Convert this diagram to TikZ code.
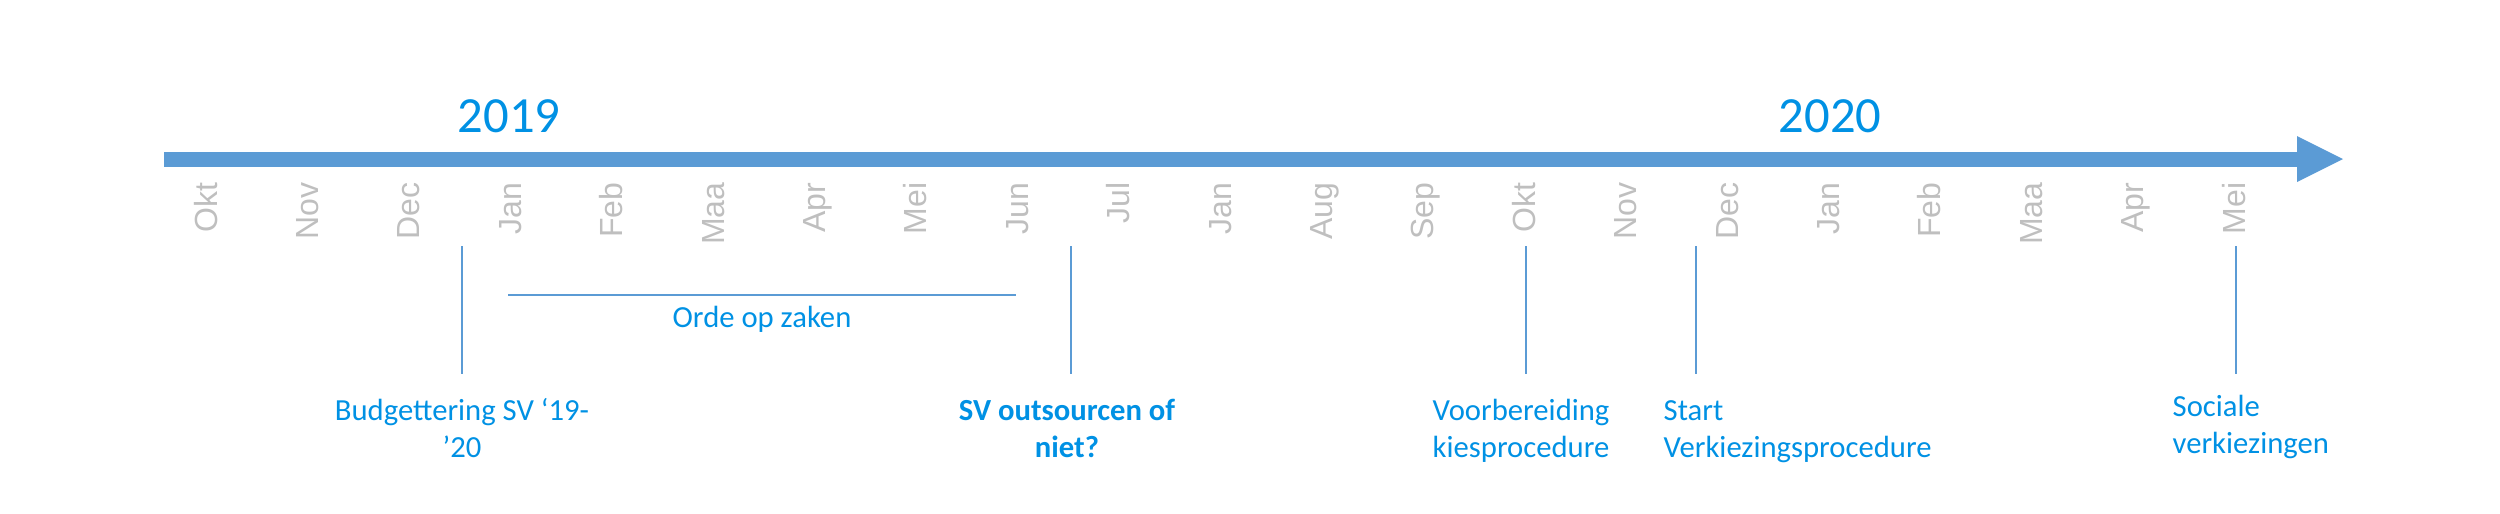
\documentclass[tikz,border=0pt]{standalone}
\usepackage{fontspec}
\setmainfont{Carlito}
\newfontfamily\monthfont{Liberation Sans}
\definecolor{axisblue}{HTML}{5B9BD5}
\definecolor{labelblue}{HTML}{0091E4}
\definecolor{monthgray}{HTML}{BFBFBF}
\tikzset{
  month/.style={rotate=90, anchor=east, inner sep=0pt, text=monthgray,
    font=\monthfont\fontsize{9.6pt}{11pt}\selectfont, text height=0.72em, text depth=0pt},
  year/.style={anchor=base, inner sep=0pt, text=labelblue, font=\fontsize{15.2pt}{18pt}\selectfont},
  event/.style={inner sep=0pt, text=labelblue, font=\fontsize{9.2pt}{11pt}\selectfont},
  marker/.style={draw=axisblue, line width=0.6pt},
}
\begin{document}
\begin{tikzpicture}[x=0.3pt, y=-0.3pt]
\useasboundingbox (0,0) rectangle (2500,513);

\coordinate (t0) at (164,159);
\coordinate (t1) at (2298,159);
\coordinate (tip) at (2343,159);
\draw[axisblue, line width=4.5pt] (t0) -- (t1);
\fill[axisblue] (2297,136) -- (tip) -- (2297,182) -- cycle;

\node[year] (y2019) at (509,132) {2019};
\node[year] (y2020) at (1830,132) {2020};

\foreach \m [count=\i from 0] in {Okt,Nov,Dec,Jan,Feb,Maa,Apr,Mei,Jun,Jul,Jan,Aug,Sep,Okt,Nov,Dec,Jan,Feb,Maa,Apr,Mei}
  \node[month] (mon-\i) at ({205+101.4*\i},182) {\m};

\foreach \x [count=\i] in {462,1071,1526,1696,2236} {
  \coordinate (mk\i-top) at (\x,246);
  \coordinate (mk\i-bot) at (\x,374);
  \draw[marker] (mk\i-top) -- (mk\i-bot);
}

\coordinate (orde-l) at (508,294.5);
\coordinate (orde-r) at (1016,294.5);
\draw[marker] (orde-l) -- (orde-r);
\node[event, anchor=base] (orde) at (762,327) {Orde op zaken};

\node[event, align=center, anchor=base] (budget) at (462,457) {Budgettering SV ‘19-\\’20};
\node[event, align=center, anchor=base, font=\bfseries\fontsize{9.2pt}{11pt}\selectfont] (outsource) at (1067,457) {SV outsourcen of\\niet?};
\node[event, align=left, anchor=base west] (voorb) at (1432,457) {Voorbereiding\\kiesprocedure};
\node[event, align=left, anchor=base west] (start) at (1663,457) {Start\\Verkiezingsprocedure};
\node[event, align=left, anchor=base west] (sociale) at (2172,453) {Sociale\\verkiezingen};
\end{tikzpicture}
\end{document}
